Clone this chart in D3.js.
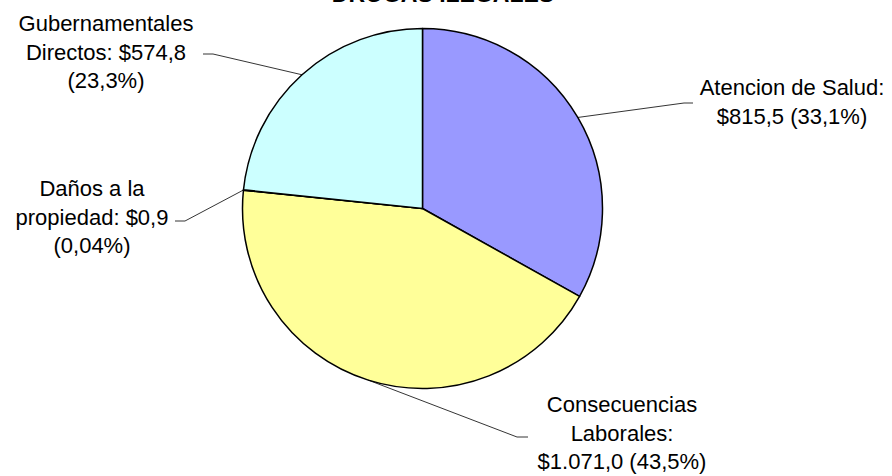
<!DOCTYPE html>
<html>
<head>
<meta charset="utf-8">
<script src="https://cdn.jsdelivr.net/npm/d3@7"></script>
<style>
  body { margin: 0; background: #fff; }
  svg { display: block; }
</style>
</head>
<body>
<div id="chart-container"></div>
<script>
// data (millones de $)
const categories = ["Atencion de Salud", "Consecuencias Laborales", "Daños a la propiedad", "Gubernamentales Directos"];
const values = [815.5, 1071.0, 0.9, 574.8];
const nameLines = [["Atencion de Salud:"], ["Consecuencias", "Laborales:"], ["Daños a la", "propiedad:"], ["Gubernamentales", "Directos:"]];
const colors = ["#9999FF", "#FFFF99", "#993366", "#CCFFFF"];
const title = "DROGAS ILEGALES";

const width = 892;
const height = 476;
const cx = 422.5, cy = 208.5, radius = 180;
const lineGap = 28.5;

// label placement (manual, like the original's dragged labels)
const labelLayout = [
    { x: 792, y: 95, inline: false, elbow: [684, 103], end: [693, 103] },
    { x: 622, y: 412, inline: false, elbow: [517, 437], end: [528, 437] },
    { x: 92, y: 196, inline: true, elbow: [185, 221], end: [175, 221] },
    { x: 106, y: 31, inline: true, elbow: [213, 54], end: [203, 54] }
];

const locale = d3.formatLocale({ decimal: ",", thousands: ".", grouping: [3], currency: ["$", ""] });
const fmtMoney = locale.format("$,.1f");
const total = d3.sum(values);
const fmtPct = v => locale.format(v / total < 0.001 ? ".2%" : ".1%")(v / total);

const svg = d3.select("#chart-container")
    .append("svg")
    .attr("width", width)
    .attr("height", height)
    .style("font-family", "'Liberation Sans', Arial, sans-serif");

svg.append("text")
    .attr("x", 443)
    .attr("y", 2)
    .attr("text-anchor", "middle")
    .style("font-size", "23px")
    .style("font-weight", "bold")
    .text(title);

const pie = d3.pie().sort(null).value(d => d);
const arcs = pie(values);
const arc = d3.arc().innerRadius(0).outerRadius(radius);

const g = svg.append("g")
    .attr("transform", `translate(${cx},${cy})`);

g.selectAll("path")
    .data(arcs)
    .join("path")
    .attr("d", arc)
    .attr("fill", (d, i) => colors[i])
    .attr("stroke", "#000")
    .attr("stroke-width", 1.5)
    .attr("stroke-linejoin", "round");

// leader lines
svg.selectAll(".leader")
    .data(arcs)
    .join("polyline")
    .attr("class", "leader")
    .attr("fill", "none")
    .attr("stroke", "#000")
    .attr("stroke-width", 0.8)
    .attr("points", (d, i) => {
        const a = (d.startAngle + d.endAngle) / 2;
        const p = [cx + radius * Math.sin(a), cy - radius * Math.cos(a)];
        const L = labelLayout[i];
        return [p, L.elbow, L.end].map(q => q.join(",")).join(" ");
    });

// labels
arcs.forEach((d, i) => {
    const L = labelLayout[i];
    const money = fmtMoney(values[i]);
    const pct = "(" + fmtPct(values[i]) + ")";
    let lines = nameLines[i].slice();
    if (L.inline) {
        lines[lines.length - 1] += " " + money;
        lines.push(pct);
    } else {
        lines.push(money + " " + pct);
    }
    const t = svg.append("text")
        .attr("text-anchor", "middle")
        .style("font-size", "22px")
        .attr("fill", "#000");
    lines.forEach((s, k) => {
        t.append("tspan")
            .attr("x", L.x)
            .attr("y", L.y + k * lineGap)
            .text(s);
    });
});
</script>
</body>
</html>
